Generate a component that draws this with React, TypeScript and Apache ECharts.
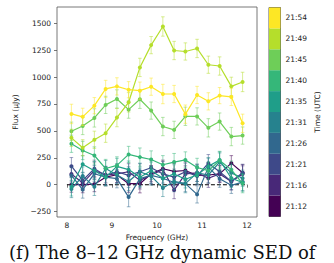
import React, { useEffect, useRef } from "react";
import * as echarts from "echarts";

const freqs = [8.1, 8.35, 8.61, 8.86, 9.11, 9.37, 9.62, 9.87, 10.13, 10.38, 10.63, 10.89, 11.14, 11.39, 11.65, 11.9];

const times = ["21:12", "21:16", "21:21", "21:26", "21:31", "21:35", "21:40", "21:45", "21:49", "21:54"];
const colors = ["#440154", "#482878", "#3e4989", "#31688e", "#26828e", "#1f9e89", "#35b779", "#6ece58", "#b5de2b", "#fde725"];

const t2112 = [0, 0, 5, 70, 92, 9, 9, 102, 148, 123, 132, 86, 90, 100, 200, 111];
const t2116 = [100, 15, 130, 92, 100, 120, 40, 90, 140, -50, 100, 110, 60, 100, 30, 100];
const t2121 = [172, 40, 148, 86, 120, 86, 120, 157, 100, 70, 120, 80, 200, 120, 30, 110];
const t2126 = [86, -45, 102, 70, 56, -115, 56, 86, 60, 20, 10, -90, 163, 56, -6, 24];
const t2131 = [-40, 80, -20, 150, 90, 30, 120, 80, -30, 30, 10, 110, 90, 210, 110, 60];
const t2135 = [-20, 190, 130, 70, 170, 140, 70, 130, 60, 100, 50, 90, 170, 230, 60, 20];
const t2140 = [380, 318, 271, 150, 179, 281, 256, 234, 185, 210, 230, 160, 130, 225, 140, 10];
const t2145 = [496, 545, 620, 741, 796, 697, 793, 688, 540, 509, 635, 634, 528, 586, 447, 456];
const t2149 = [435, 343, 417, 478, 623, 765, 1089, 1296, 1469, 1246, 1237, 1265, 1114, 1102, 913, 954];
const t2154 = [657, 630, 734, 889, 913, 882, 873, 910, 842, 842, 655, 833, 774, 827, 815, 570];

const e2112 = [70, 75, 70, 80, 75, 80, 85, 75, 80, 75, 80, 85, 75, 80, 70, 75];
const e2116 = [75, 70, 80, 75, 80, 75, 80, 85, 75, 80, 75, 80, 85, 75, 80, 75];
const e2121 = [80, 75, 80, 85, 75, 80, 75, 80, 85, 75, 80, 75, 80, 85, 75, 80];
const e2126 = [75, 80, 75, 80, 85, 90, 80, 75, 80, 85, 75, 80, 85, 80, 75, 80];
const e2131 = [80, 85, 80, 75, 80, 85, 80, 85, 80, 75, 85, 80, 75, 85, 80, 75];
const e2135 = [85, 80, 85, 80, 75, 80, 85, 80, 75, 85, 80, 85, 80, 75, 85, 80];
const e2140 = [80, 85, 80, 85, 80, 75, 85, 80, 85, 80, 75, 85, 80, 85, 80, 85];
const e2145 = [85, 80, 85, 80, 85, 80, 85, 80, 85, 80, 85, 80, 85, 80, 85, 80];
const e2149 = [80, 75, 80, 85, 85, 90, 85, 80, 90, 85, 80, 85, 80, 85, 85, 90];
const e2154 = [90, 80, 75, 80, 80, 75, 80, 80, 90, 80, 85, 80, 80, 75, 80, 85];

const fluxes = [t2112, t2116, t2121, t2126, t2131, t2135, t2140, t2145, t2149, t2154];
const errors = [e2112, e2116, e2121, e2126, e2131, e2135, e2140, e2145, e2149, e2154];

const xTicks = [8, 9, 10, 11, 12];
const yTicks = [-250, 0, 250, 500, 750, 1000, 1250, 1500];
const zeroLine = [[8, 0], [12, 0]];

const FONT = "DejaVu Sans";

export default function App() {
  const ref = useRef<HTMLDivElement>(null);
  useEffect(() => {
    document.body.style.margin = "0";
    const chart = echarts.init(ref.current!, undefined, { renderer: "svg" });
    const series: any[] = [
      {
        type: "line",
        xAxisIndex: 0,
        yAxisIndex: 0,
        data: zeroLine,
        symbol: "none",
        lineStyle: { color: "#000", type: [4, 2], width: 1.1 },
        z: 1,
      },
    ];
    fluxes.forEach((arr, i) => {
      const c = colors[i];
      series.push({
        type: "custom",
        xAxisIndex: 0,
        yAxisIndex: 0,
        data: arr.map((v, j) => [freqs[j], v, errors[i][j]]),
        encode: { x: 0, y: 1 },
        z: 2 + i * 2,
        renderItem: (params: any, api: any) => {
          const x = api.value(0);
          const y = api.value(1);
          const e = api.value(2);
          const top = api.coord([x, y + e]);
          const bot = api.coord([x, y - e]);
          const w = 1.8;
          const st = { stroke: c, lineWidth: 1, opacity: 0.5 };
          return {
            type: "group",
            children: [
              { type: "line", shape: { x1: top[0], y1: top[1], x2: bot[0], y2: bot[1] }, style: st },
              { type: "line", shape: { x1: top[0] - w, y1: top[1], x2: top[0] + w, y2: top[1] }, style: st },
              { type: "line", shape: { x1: bot[0] - w, y1: bot[1], x2: bot[0] + w, y2: bot[1] }, style: st },
            ],
          };
        },
      });
      series.push({
        type: "line",
        xAxisIndex: 0,
        yAxisIndex: 0,
        data: arr.map((v, j) => [freqs[j], v]),
        symbol: "circle",
        symbolSize: 4,
        showSymbol: true,
        lineStyle: { color: c, width: 1.2 },
        itemStyle: { color: c },
        z: 3 + i * 2,
      });
    });
    series.push({
      type: "bar",
      xAxisIndex: 1,
      yAxisIndex: 1,
      data: times.map((t, i) => ({ value: 1, itemStyle: { color: colors[i] } })),
      barWidth: "100%",
      barCategoryGap: "0%",
    });

    const tickLabel = { fontFamily: FONT, fontSize: 7.5, color: "#222" };
    chart.setOption({
      animation: false,
      grid: [
        { left: 57, top: 7, width: 200, height: 210, show: true, borderColor: "#555", borderWidth: 0.8, backgroundColor: "#fff" },
        { left: 269, top: 7.5, width: 11.5, height: 209, show: true, borderColor: "#333", borderWidth: 0.8 },
      ],
      xAxis: [
        {
          type: "value",
          gridIndex: 0,
          min: 7.78,
          max: 12.22,
          splitLine: { show: false },
          axisLine: { show: false },
          axisTick: { show: true, length: 3, inside: false, customValues: xTicks, lineStyle: { color: "#555", width: 0.8 } },
          axisLabel: { ...tickLabel, margin: 4, customValues: xTicks, formatter: (v: number) => String(v) },
          name: "Frequency (GHz)",
          nameLocation: "middle",
          nameGap: 12,
          nameTextStyle: { fontFamily: FONT, fontSize: 7.5, color: "#222" },
        },
        {
          type: "value",
          gridIndex: 1,
          min: 0,
          max: 1,
          show: false,
        },
      ],
      yAxis: [
        {
          type: "value",
          gridIndex: 0,
          min: -300,
          max: 1650,
          splitLine: { show: false },
          axisLine: { show: false },
          axisTick: { show: true, length: 3, customValues: yTicks, lineStyle: { color: "#555", width: 0.8 } },
          axisLabel: { ...tickLabel, margin: 6, customValues: yTicks, formatter: (v: number) => (v < 0 ? "\u2212" + String(-v) : String(v)) },
          name: "Flux (μJy)",
          nameLocation: "middle",
          nameGap: 37,
          nameTextStyle: { fontFamily: FONT, fontSize: 7.5, color: "#222" },
        },
        {
          type: "category",
          gridIndex: 1,
          data: times,
          position: "right",
          axisLine: { show: false },
          axisTick: { show: true, alignWithLabel: true, length: 3, lineStyle: { color: "#333", width: 0.8 } },
          axisLabel: { ...tickLabel, margin: 5 },
          name: "Time (UTC)",
          nameLocation: "middle",
          nameRotate: 90,
          nameGap: 33,
          nameTextStyle: { fontFamily: FONT, fontSize: 7.5, color: "#222" },
        },
      ],
      graphic: [
        {
          type: "text",
          left: 9,
          top: 243,
          style: { text: "(f) The 8–12 GHz dynamic SED of", font: '18px "DejaVu Serif"', fill: "#111" },
        },
      ],
      series,
    });
    return () => chart.dispose();
  }, []);
  return <div ref={ref} style={{ width: 334, height: 263 }} />;
}
